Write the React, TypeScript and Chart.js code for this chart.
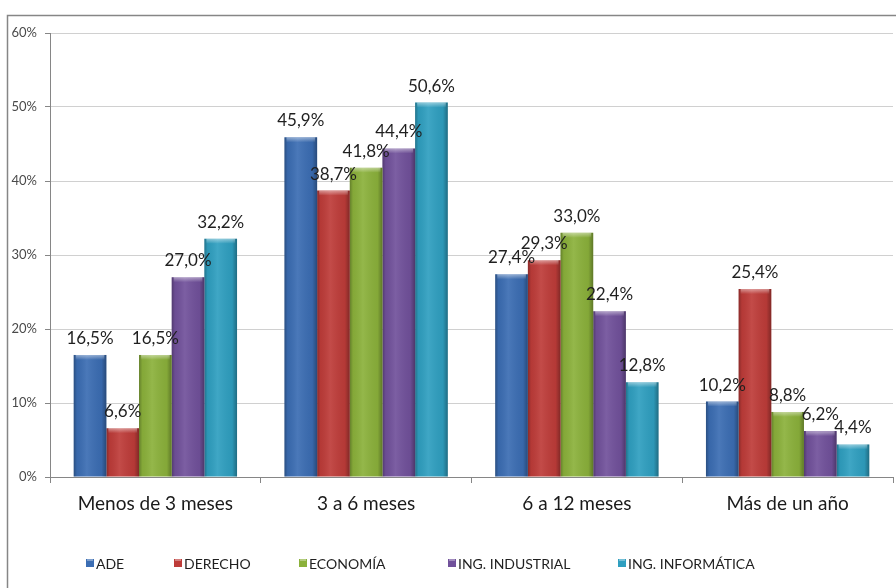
import React, { useEffect, useRef } from "react";
import { Chart, registerables } from "chart.js";

Chart.register(...registerables);

const categories = ["Menos de 3 meses", "3 a 6 meses", "6 a 12 meses", "Más de un año"];
const seriesNames = ["ADE", "DERECHO", "ECONOMÍA", "ING. INDUSTRIAL", "ING. INFORMÁTICA"];
const ade = [16.5, 45.9, 27.4, 10.2];
const derecho = [6.6, 38.7, 29.3, 25.4];
const economia = [16.5, 41.8, 33.0, 8.8];
const ingIndustrial = [27.0, 44.4, 22.4, 6.2];
const ingInformatica = [32.2, 50.6, 12.8, 4.4];
const seriesValues = [ade, derecho, economia, ingIndustrial, ingInformatica];
const seriesColors = ["#3B6DB3", "#BE3C39", "#8BB13B", "#71519B", "#2F9FC0"];
const legendX = [90, 178, 303, 452, 622];

const FONT = "Lato, 'Open Sans', sans-serif";

const fmt = (v: number) => v.toFixed(1).replace(".", ",") + "%";

const framePlugin = {
  id: "frame",
  beforeDraw(chart: any) {
    const c = chart.ctx;
    c.save();
    c.fillStyle = "#ffffff";
    c.fillRect(0, 0, chart.width, chart.height);
    c.strokeStyle = "#868686";
    c.lineWidth = 1.5;
    c.beginPath();
    c.moveTo(7.5, chart.height + 5);
    c.lineTo(7.5, 15.5);
    c.lineTo(chart.width + 5, 15.5);
    c.stroke();
    c.restore();
  },
};

const shadePlugin = {
  id: "shade",
  afterDatasetDraw(chart: any, args: any) {
    const meta = args.meta;
    const c = chart.ctx;
    c.save();
    meta.data.forEach((bar: any) => {
      const w = bar.width;
      const left = bar.x - w / 2;
      const top = bar.y;
      const h = bar.base - bar.y;
      const g = c.createLinearGradient(left, 0, left + w, 0);
      g.addColorStop(0, "rgba(0,0,0,0.28)");
      g.addColorStop(0.1, "rgba(0,0,0,0.05)");
      g.addColorStop(0.4, "rgba(255,255,255,0.08)");
      g.addColorStop(0.85, "rgba(0,0,0,0.05)");
      g.addColorStop(1, "rgba(0,0,0,0.32)");
      c.fillStyle = g;
      c.fillRect(left, top, w, h);
      const bevel = Math.min(5, h);
      const gt = c.createLinearGradient(0, top, 0, top + bevel);
      gt.addColorStop(0, "rgba(255,255,255,0.45)");
      gt.addColorStop(1, "rgba(255,255,255,0)");
      c.fillStyle = gt;
      c.fillRect(left + 2, top, w - 4, bevel);
    });
    c.restore();
  },
};

const labelPlugin = {
  id: "valueLabels",
  afterDatasetsDraw(chart: any) {
    const c = chart.ctx;
    c.save();
    c.font = `17px ${FONT}`;
    c.fillStyle = "#1f1f1f";
    c.textAlign = "center";
    c.textBaseline = "bottom";
    chart.data.datasets.forEach((ds: any, i: number) => {
      const meta = chart.getDatasetMeta(i);
      meta.data.forEach((bar: any, j: number) => {
        c.fillText(fmt(ds.data[j]), bar.x, bar.y - 8);
      });
    });
    c.restore();
  },
};

const legendPlugin = {
  id: "customLegend",
  afterDraw(chart: any) {
    const c = chart.ctx;
    c.save();
    c.font = `14px ${FONT}`;
    c.textBaseline = "middle";
    c.textAlign = "left";
    const y = 563;
    chart.data.datasets.forEach((ds: any, i: number) => {
      const x = legendX[i];
      c.fillStyle = ds.backgroundColor;
      c.fillRect(x - 4, y - 4, 8, 8);
      c.fillStyle = "rgba(255,255,255,0.35)";
      c.fillRect(x - 3, y - 4, 6, 2);
      c.fillStyle = "#1f1f1f";
      c.fillText(ds.label, x + 6, y + 1);
    });
    c.restore();
  },
};

export default function App() {
  const ref = useRef<HTMLCanvasElement>(null);
  useEffect(() => {
    document.body.style.margin = "0";
    const chart = new Chart(ref.current!, {
      type: "bar",
      data: {
        labels: categories,
        datasets: seriesNames.map((name, i) => ({
          label: name,
          data: seriesValues[i],
          backgroundColor: seriesColors[i],
          borderWidth: 0,
          categoryPercentage: 0.775,
          barPercentage: 1.0,
        })),
      },
      options: {
        animation: false,
        responsive: false,
        maintainAspectRatio: false,
        layout: { padding: { left: 7, top: 33, right: 3, bottom: 0 } },
        plugins: {
          legend: { display: false },
          tooltip: { enabled: false },
        },
        scales: {
          x: {
            grid: {
              offset: true,
              drawOnChartArea: false,
              drawTicks: true,
              tickLength: 6,
              color: "#868686",
            },
            border: { color: "#868686" },
            ticks: {
              font: { family: FONT, size: 19 },
              color: "#1a1a1a",
              padding: 9,
            },
            afterFit(scale: any) {
              scale.height = 111;
            },
          },
          y: {
            min: 0,
            max: 60,
            ticks: {
              stepSize: 10,
              callback: (v: any) => v + "%",
              font: { family: FONT, size: 13 },
              color: "#4a4a4a",
              padding: 8,
            },
            grid: {
              color: "#D0D0D0",
              tickLength: 5,
              tickColor: "#868686",
            },
            border: { color: "#868686" },
            afterFit(scale: any) {
              scale.width = 43;
            },
          },
        },
      },
      plugins: [framePlugin, shadePlugin, labelPlugin, legendPlugin],
    });
    return () => chart.destroy();
  }, []);
  return <canvas ref={ref} width={896} height={588} style={{ display: "block" }} />;
}
